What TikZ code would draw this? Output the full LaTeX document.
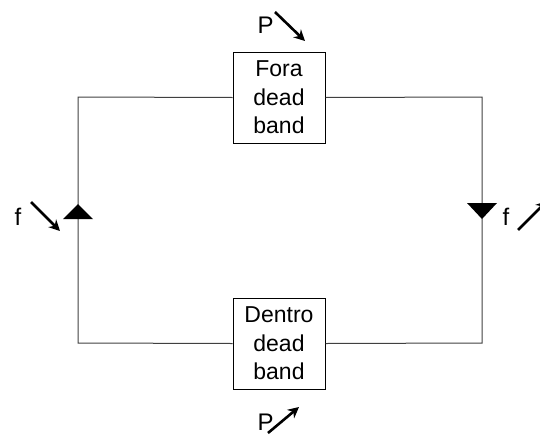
\documentclass[tikz,border=0pt]{standalone}
\usepackage{fontspec}
\setmainfont{Liberation Sans}
\usetikzlibrary{arrows.meta}
\definecolor{wire}{HTML}{404040}
\begin{document}
\begin{tikzpicture}[x=1pt,y=-1pt,
  blockbox/.style={draw=black,line width=1pt,fill=white,minimum width=92pt,minimum height=91pt,inner sep=0pt,align=center,font=\fontsize{23}{28.5}\selectfont},
  lbl/.style={inner sep=0pt,font=\fontsize{24}{28}\selectfont},
  wireline/.style={draw=wire,line width=1pt},
  trend/.style={line width=2.6pt,-{Stealth[length=11pt,width=11pt]}},
  tri/.style={fill=black}]
\useasboundingbox (0,0) rectangle (540,434);
\node[blockbox] (top) at (279,97.5) {Fora\\dead\\band};
\node[blockbox] (bot) at (279,343.5) {Dentro\\dead\\band};
\coordinate (tl) at (78,97);
\coordinate (tr) at (482,97);
\coordinate (bl) at (78,343);
\coordinate (br) at (482,343);
\draw[wireline] (top.west) -- (tl) -- (bl) -- (bot.west);
\draw[wireline] (top.east) -- (tr) -- (br) -- (bot.east);
% flow direction marks
\fill[tri] (78,204) -- (93,219) -- (63,219) -- cycle;
\fill[tri] (467,203) -- (497,203) -- (482,219) -- cycle;
% labels
\node[lbl] (ptop) at (265.5,25) {P};
\coordinate (pta) at (275,12);
\coordinate (ptb) at (305,41);
\draw[trend] (pta) -- (ptb);
\node[lbl] (pbot) at (265.5,422) {P};
\coordinate (pba) at (268,433);
\coordinate (pbb) at (299,407);
\draw[trend] (pba) -- (pbb);
\node[lbl] (fl) at (18,217) {f};
\coordinate (fla) at (31,202);
\coordinate (flb) at (60,231);
\draw[trend] (fla) -- (flb);
\node[lbl] (fr) at (506,217) {f};
\coordinate (fra) at (518,230);
\coordinate (frb) at (547,201);
\draw[trend] (fra) -- (frb);
\end{tikzpicture}
\end{document}
